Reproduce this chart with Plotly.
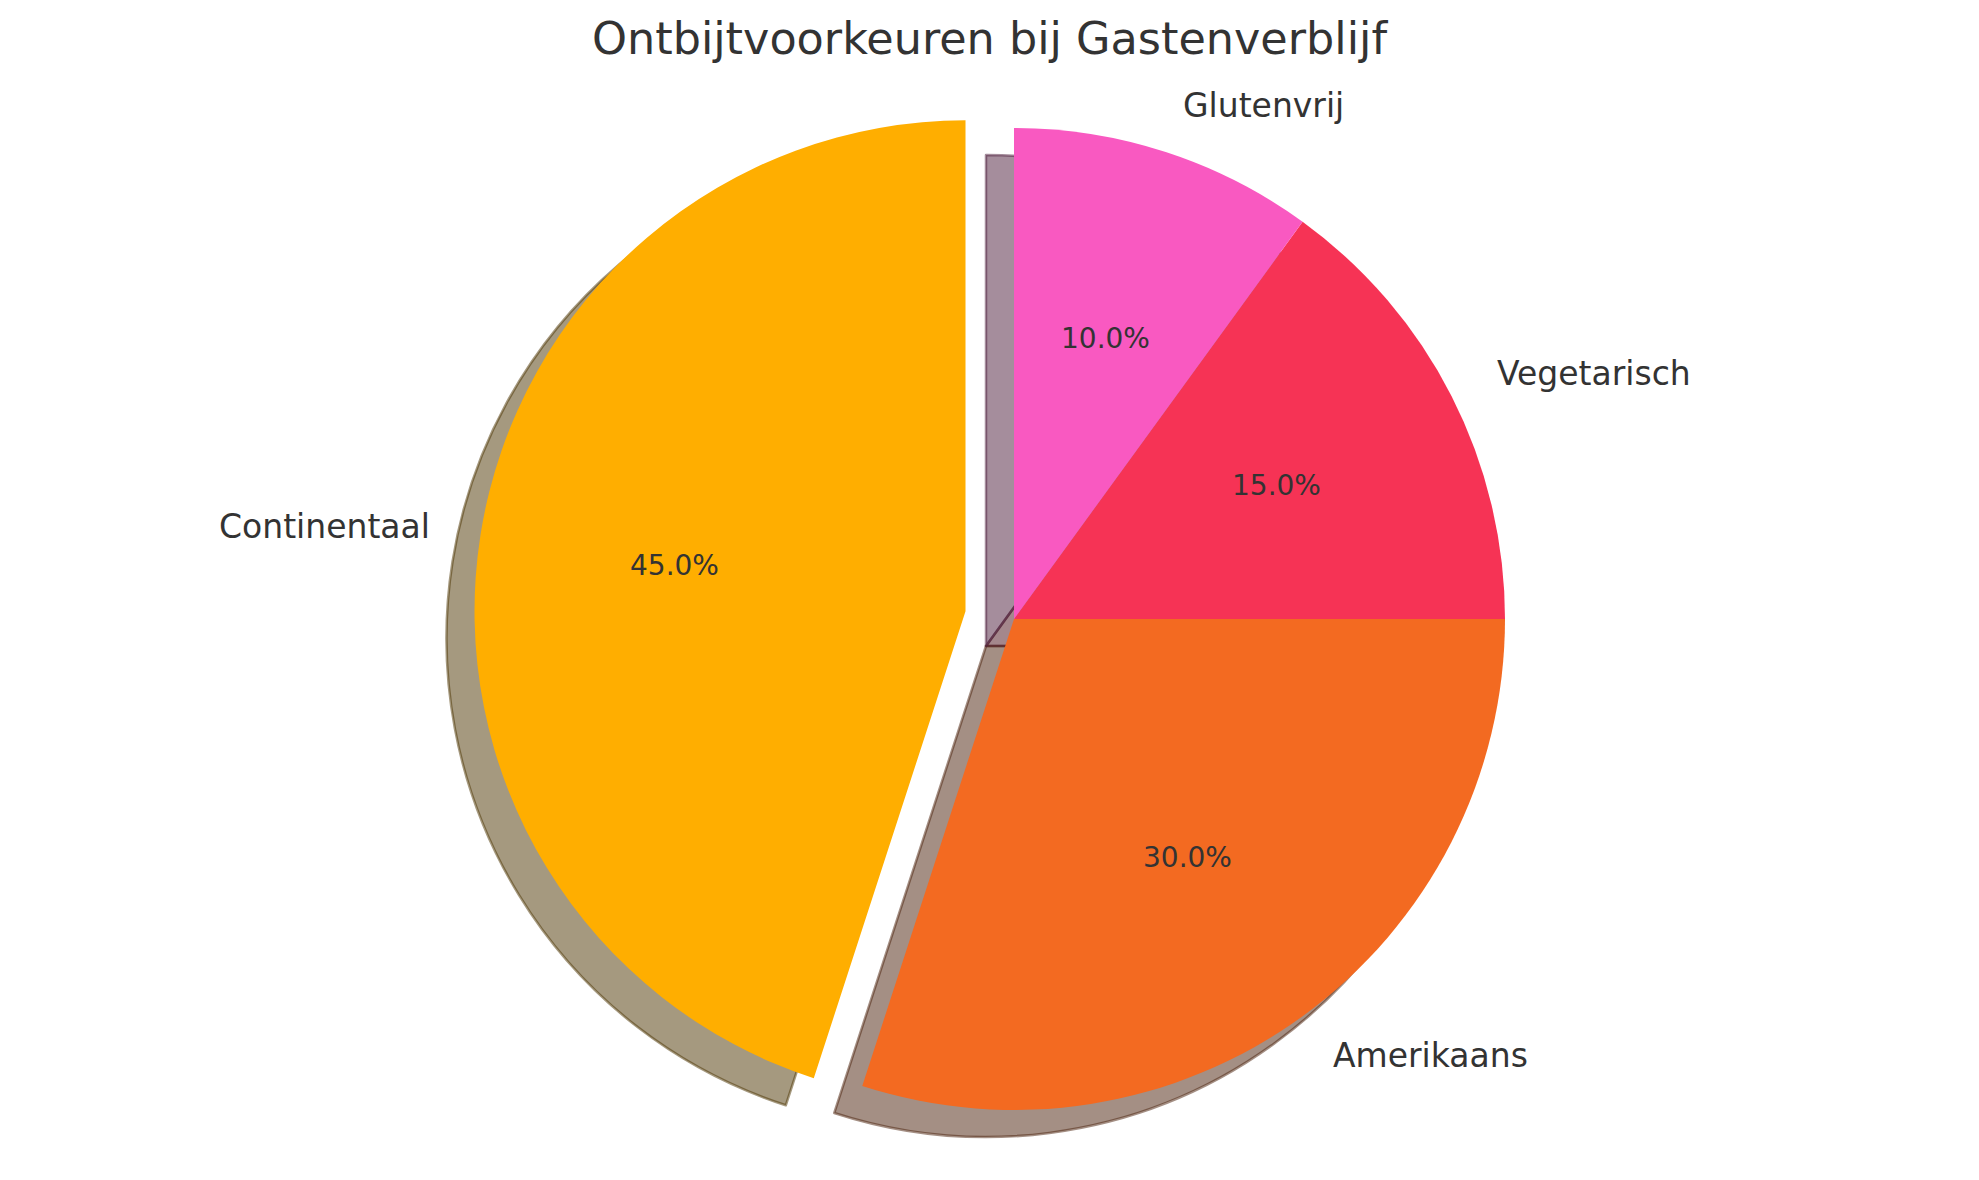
import math
import plotly.graph_objects as go

# data
labels = ["Continentaal", "Amerikaans", "Vegetarisch", "Glutenvrij"]
values = [45, 30, 15, 10]
colors = ["#FFAE00", "#F36A21", "#F63355", "#F959C1"]
explode = [0.1, 0, 0, 0]

W, H = 1979, 1180
cx, cy, r = 1014, 619, 491          # pie centre (px from top-left) and radius
sdx, sdy = -28, 27                  # shadow offset in px
text_color = "#333333"


def shade(hex_color, k=0.3, a=0.5):
    h = hex_color.lstrip("#")
    rgb = [int(h[i:i + 2], 16) for i in (0, 2, 4)]
    return "rgba({},{},{},{})".format(*[round(c * k) for c in rgb], a)


def domain(x0, y0, half):
    # px centre -> paper domain
    yb = H - y0
    return dict(x=[(x0 - half) / W, (x0 + half) / W],
                y=[(yb - half) / H, (yb + half) / H])


total = sum(values)
angles = []
start = 90.0
for v in values:
    span = 360.0 * v / total
    angles.append(start + span / 2)
    start += span

# plotly puts the end of the first slice at 12 o'clock when counterclockwise,
# so rotate back by its span to make it start there (matplotlib startangle=90)
rot = -360.0 * values[0] / total

fig = go.Figure()

# ----------------------------
# Shadows (all but exploded wedge, then the exploded wedge)
# ----------------------------
sh_cols = [shade(c) for c in colors]
clear = "rgba(0,0,0,0)"

fig.add_trace(go.Pie(
    labels=labels, values=values, sort=False, direction="counterclockwise",
    rotation=rot, textinfo="none", hoverinfo="skip", showlegend=False,
    marker=dict(colors=[clear] + sh_cols[1:],
                line=dict(color=[clear] + sh_cols[1:], width=[0, 2.5, 2.5, 2.5])),
    domain=domain(cx + sdx, cy + sdy, r),
))

ex_ang = math.radians(angles[0])
ex_cx = cx + explode[0] * r * math.cos(ex_ang)
ex_cy = cy - explode[0] * r * math.sin(ex_ang)

fig.add_trace(go.Pie(
    labels=labels, values=values, sort=False, direction="counterclockwise",
    rotation=rot, textinfo="none", hoverinfo="skip", showlegend=False,
    marker=dict(colors=[sh_cols[0], clear, clear, clear],
                line=dict(color=[sh_cols[0], clear, clear, clear], width=[2.5, 0, 0, 0])),
    domain=domain(ex_cx + sdx, ex_cy + sdy, r),
))

# ----------------------------
# Main pie
# ----------------------------
fig.add_trace(go.Pie(
    labels=labels, values=values, sort=False, direction="counterclockwise",
    rotation=rot, textinfo="none", pull=explode, showlegend=False,
    hoverinfo="label+percent",
    marker=dict(colors=colors, line=dict(width=0)),
    domain=domain(cx, cy, r * (1 + max(explode))),
))

# ----------------------------
# Labels and percentages
# ----------------------------
for lab, v, ang, ex in zip(labels, values, angles, explode):
    a = math.radians(ang)
    ox = cx + ex * r * math.cos(a)
    oy = cy - ex * r * math.sin(a)
    lx = ox + 1.1 * r * math.cos(a)
    ly = oy - 1.1 * r * math.sin(a)
    fig.add_annotation(
        x=lx / W, y=1 - ly / H, xref="paper", yref="paper",
        text=lab, showarrow=False,
        xanchor="left" if math.cos(a) > 0 else "right", yanchor="middle",
        font=dict(size=33, color=text_color),
    )
    px = ox + 0.6 * r * math.cos(a)
    py = oy - 0.6 * r * math.sin(a)
    fig.add_annotation(
        x=px / W, y=1 - py / H, xref="paper", yref="paper",
        text="{:.1f}%".format(100.0 * v / total), showarrow=False,
        xanchor="center", yanchor="middle",
        font=dict(size=28, color=text_color),
    )

# ----------------------------
# Layout
# ----------------------------
fig.update_layout(
    title=dict(text="Ontbijtvoorkeuren bij Gastenverblijf", x=0.5, xanchor="center",
               y=1 - 38 / H, yanchor="middle", yref="container",
               font=dict(size=44.5, color=text_color)),
    width=W, height=H,
    margin=dict(l=0, r=0, t=0, b=0),
    paper_bgcolor="white", plot_bgcolor="white",
    font=dict(family="DejaVu Sans", color=text_color),
)

# drop the default 8px body margin so the figure sits at the page origin
fig.write_html("out.html", config={"displayModeBar": False},
               post_script="document.body.style.margin='0';")
